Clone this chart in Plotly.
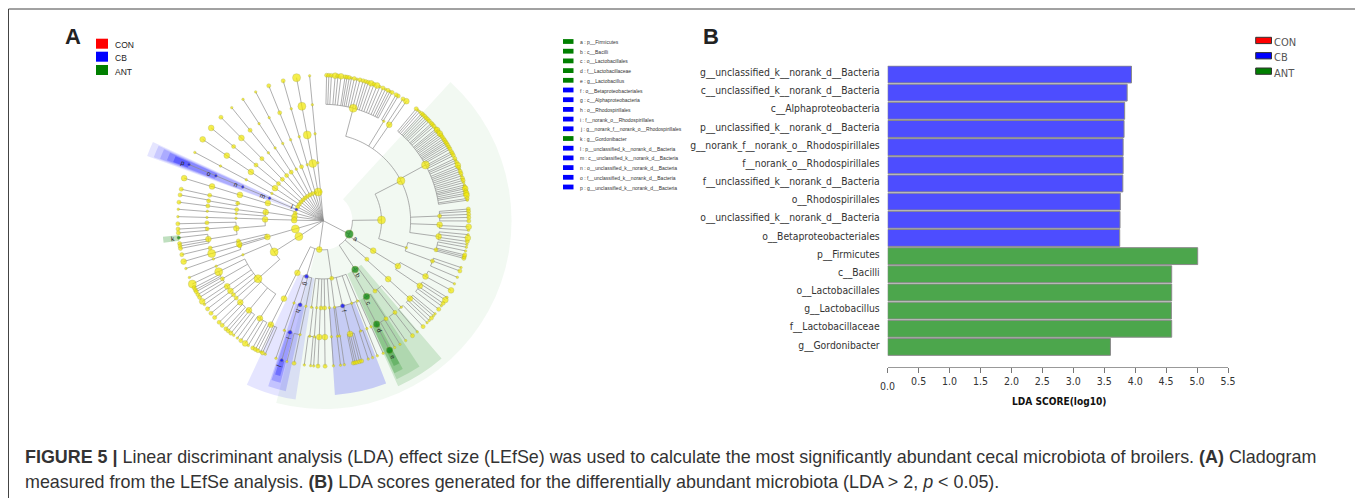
import plotly.graph_objects as go
import math

W, H = 1355, 498
t, s, m, b = 2.5, 4.1, 5.8, 8.0

# ---------- Panel B data ----------
lda_taxa = ["g__unclassified_k__norank_d__Bacteria", "c__unclassified_k__norank_d__Bacteria",
            "c__Alphaproteobacteria", "p__unclassified_k__norank_d__Bacteria",
            "g__norank_f__norank_o__Rhodospirillales", "f__norank_o__Rhodospirillales",
            "f__unclassified_k__norank_d__Bacteria", "o__Rhodospirillales",
            "o__unclassified_k__norank_d__Bacteria", "o__Betaproteobacteriales",
            "p__Firmicutes", "c__Bacilli", "o__Lactobacillales", "g__Lactobacillus",
            "f__Lactobacillaceae", "g__Gordonibacter"]
lda_scores = [3.94, 3.87, 3.83, 3.82, 3.805, 3.805, 3.80, 3.76, 3.755, 3.75,
              5.01, 4.59, 4.59, 4.585, 4.59, 3.60]
lda_groups = ["CB"] * 10 + ["ANT"] * 6
lda_ticks = [0, 0.5, 1, 1.5, 2, 2.5, 3, 3.5, 4, 4.5, 5, 5.5]

# ---------- Panel A legend ----------
clade_key = ["a : p__Firmicutes", "b : c__Bacilli", "c : o__Lactobacillales", "d : f__Lactobacillaceae",
             "e : g__Lactobacillus", "f : o__Betaproteobacteriales", "g : c__Alphaproteobacteria",
             "h : o__Rhodospirillales", "i : f__norank_o__Rhodospirillales",
             "j : g__norank_f__norank_o__Rhodospirillales", "k : g__Gordonibacter",
             "l : p__unclassified_k__norank_d__Bacteria", "m : c__unclassified_k__norank_d__Bacteria",
             "n : o__unclassified_k__norank_d__Bacteria", "o : f__unclassified_k__norank_d__Bacteria",
             "p : g__unclassified_k__norank_d__Bacteria"]
clade_key_group = ["ANT"] * 5 + ["CB"] * 5 + ["ANT"] + ["CB"] * 5

# ---------- Cladogram: per level, (parent angle, [(angle, size), ...]) ----------
level1 = [(354.6, t), (350, b), (344, t), (338.5, s), (332.5, s), (326.5, s), (321, s), (315.5, s), (310, s),
          (304, s), (298, s), (292.7, 3), (285, s), (278, m), (271, m), (253.5, b), (237, b), (188, 5.8), (117.4, 8.2)]
level2 = [(354.6, [(354.6, t)]), (350, [(349.6, b)]), (344, [(344, t)]), (338.5, [(338, s)]), (332.5, [(332.3, t)]),
          (326.5, [(326.5, s)]), (321, [(321, s)]), (315.5, [(315.3, s)]), (310, [(309.6, s)]), (304, [(304, m)]),
          (298, [(298, t)]), (292.7, [(292.7, 2.8)]), (285, [(287.6, m)]), (278, [(278.4, m)]), (271, [(271.3, m)]),
          (253.5, [(253.8, m)]), (237, [(237.6, b)]), (188, [(206.4, m), (196.8, 4.2), (171.7, s)]),
          (117.4, [(146.9, 6.8), (131.5, s), (121, m), (89.3, b)])]
level3 = [(354.6, [(354.6, t)]), (349.6, [(349.4, b)]), (344, [(344, t)]), (338, [(338, t)]), (332.3, [(332.3, t)]),
          (326.5, [(326.5, t)]), (321, [(321, t)]), (315.3, [(315.3, s)]), (309.6, [(309.6, s)]), (304, [(304, m)]),
          (298, [(298, t)]), (292.7, [(292.7, 2.8)]), (287.6, [(287.2, m)]), (278.4, [(281.5, s), (277.3, s), (274.6, t)]),
          (271.3, [(271.6, t), (265, m)]), (253.8, [(256.6, s), (254.4, m), (253.2, s)]), (237.6, [(247, t), (228.4, b)]),
          (206.4, [(206.8, m)]), (196.8, [(199.6, t), (195.4, 4.2), (191.5, t)]),
          (171.7, [(187.8, t), (184.4, t), (181.5, s), (179.1, s), (176, t), (172.6, t), (167.2, 4.4), (161, t), (157, t)]),
          (146.9, [(150.3, 6.6), (143.7, s)]), (131.5, [(132, m)]), (121, [(121.3, m)]), (89.3, [(62.8, b), (108, t)])]
level4 = [(354.6, [(354.6, t)]), (349.4, [(349.4, b)]), (344, [(344, t)]), (338, [(338, s)]), (332.3, [(332.3, t)]),
          (326.5, [(326.5, t)]), (321, [(321, s)]), (315.3, [(315.3, m)]), (309.6, [(309.6, s)]), (304, [(304, m)]),
          (298, [(298, t)]), (292.7, [(292.7, 2.8)]), (287.2, [(287.1, m)]), (281.5, [(282.6, s), (279.8, s)]),
          (277.3, [(277.3, s)]), (274.6, [(274.7, t)]), (271.6, [(271.6, t)]), (265, [(269, s), (266, s), (260.9, m)]),
          (256.6, [(256.4, s)]), (254.4, [(253.6, b)]), (253.2, [(250.8, t)]), (247, [(247, t)]),
          (228.4, [(244, b), (240.1, s), (235.7, m), (232.9, m), (230.5, s), (228.4, s), (225.5, m), (219.7, m), (213, m)]),
          (206.8, [(206.8, m)]), (199.6, [(199.6, t)]), (195.4, [(196.6, 4.2)]), (191.5, [(191.5, t)]),
          (187.8, [(186.7, t)]), (184.4, [(184.4, t)]), (181.5, [(182, m)]), (179.1, [(179.2, m)]), (176, [(176, t)]),
          (172.6, [(173, t)]), (167.2, [(172, t), (166.7, m), (161.3, t)]), (161, [(158, t)]), (157, [(155.8, t)]),
          (150.3, [(152.7, 6.6), (147.4, s)]), (143.7, [(142, s), (138, t)]), (132, [(132, m)]), (121.3, [(124, m), (118.6, m)]),
          (62.8, [(14.9, b), (31.3, t), (34.5, m), (61.4, b), (87.7, s), (92, m), (97.8, m)]), (108, [(104.5, s), (110.3, s)])]
level5 = [(354.6, [(354.6, t)]), (349.4, [(349.4, b)]), (344, [(344, s)]), (338, [(338, s)]), (332.3, [(332.3, t)]),
          (326.5, [(326.5, t)]), (321, [(321, t)]), (315.3, [(315.3, s)]), (309.6, [(309.6, m)]), (304, [(304, m)]),
          (298, [(298, t)]), (292.7, [(292.7, 2.8)]), (287.1, [(287, m)]), (282.6, [(282.5, s)]), (279.8, [(280.2, s)]),
          (277.3, [(277.3, s)]), (274.7, [(274.5, t)]), (271.6, [(271.6, t)]), (269, [(268.8, s)]), (266, [(266.7, s), (265.2, s)]),
          (260.9, [(263.3, 3.6), (261, s), (260, s), (259, s)]), (256.4, [(256.5, s)]), (253.6, [(253.7, m)]),
          (250.8, [(250.8, t)]), (247, [(247, t)]), (244, [(244.2, b), (242.6, s), (241.6, s)]),
          (240.1, [(240.8, s), (239.5, s), (238.2, s)]), (235.7, [(236.3, m), (234.8, t)]), (232.9, [(232.7, s)]),
          (230.5, [(230.5, s)]), (228.4, [(228.3, s)]), (225.5, [(225.7, s), (224, s), (222, s)]),
          (219.7, [(220.8, s), (219.4, s), (218, t), (216.2, t)]), (213, [(214.5, s), (212.5, m), (211, t), (209, s)]),
          (206.8, [(207.8, s), (206.7, s), (205.5, t), (204.7, s), (203.5, t)]), (199.6, [(199, t)]), (196.6, [(196.6, 3.2)]),
          (191.5, [(191.6, s), (194.5, t)]), (186.7, [(187.5, t), (185, t)]), (184.4, [(183.8, t)]), (182, [(182.1, s)]),
          (179.2, [(179.3, s)]), (176, [(176, t)]), (173, [(173.2, t)]), (172, [(171.7, t)]),
          (166.7, [(168.1, s), (167.4, s), (166.6, s), (165.6, s), (164.7, s)]), (161.3, [(162, t), (160.2, t)]),
          (158, [(158.2, t)]), (155.8, [(155.7, t)]), (152.7, [(152.9, 6.4)]), (147.4, [(150.6, t), (148.2, t)]),
          (142, [(145.5, t), (142.2, s)]), (138, [(139.8, t), (136.7, s)]),
          (132, [(134.5, t), (133.3, t), (132, s), (130.8, t), (129.8, t)]),
          (124, [(127.5, s), (125.8, t), (124.6, s), (123, m), (121.8, t)]), (118.6, [(118.6, m), (115.7, t)]),
          (110.3, [(112.9, t), (110.2, s), (108.8, t)]), (104.5, [(105, s), (104.3, s), (103.6, s), (102, t), (100.5, t)]),
          (97.8, [(99.4, t), (98.2, s), (96.8, m), (95.5, t)]), (92, [(92.4, m), (93.8, t)]),
          (87.7, [(85.4, s), (86.3, s), (87.5, s), (88.7, s), (90.1, s)]),
          (61.4, [(39.7, s), (40.6, t), (41.5, t), (42.5, s), (43.3, s), (44.2, s), (45.1, s), (45.9, s), (46.8, s), (48, s), (48.7, s),
                  (49.6, s), (50.8, s), (51.5, m), (52.3, s), (53.2, m), (54, s), (54.8, s), (55.7, s), (56.5, s), (57.3, s), (58, s),
                  (58.8, s), (59.7, s), (60.5, s), (61.7, s), (62.5, s), (63.4, s), (64.7, s), (65.5, t), (66.4, s), (67.6, m),
                  (68.5, s), (69.3, t), (70.2, s), (71.1, s), (72, t), (73, s), (73.9, s), (74.8, t), (75.8, t), (76.6, s), (77.3, m),
                  (78.2, s), (79.1, m), (79.9, m), (81.2, s), (81.9, t)]),
          (34.5, [(34.8, m), (33.2, s)]), (31.3, [(31, s), (30, s)]),
          (14.9, [(1.3, s), (2.2, s), (3.2, s), (4.7, m), (5.8, s), (7, m), (8.6, s), (9.4, s), (10.3, s), (11.2, t), (12.3, s), (13.4, t),
                  (14.6, s), (15.9, s), (17, s), (18, s), (19.2, m), (20.4, s), (21.7, m), (22.9, t), (24.2, s), (25.3, t), (26.4, s),
                  (27.3, t), (28.2, s)])]
levels = [level2, level3, level4, level5]

# Enriched nodes: (level, angle) -> class
enriched = {(1, 117.4): "ANT", (2, 146.9): "ANT", (3, 150.3): "ANT", (4, 152.7): "ANT", (5, 152.9): "ANT", (5, 263.3): "ANT",
            (3, 167.2): "CB", (2, 196.8): "CB", (3, 195.4): "CB", (4, 196.6): "CB", (5, 196.6): "CB",
            (1, 292.7): "CB", (2, 292.7): "CB", (3, 292.7): "CB", (4, 292.7): "CB", (5, 292.7): "CB"}

# Shaded sectors: centre angle, width, inner level, outer level, class
sector_theta = [118.5, 147.5, 150.85, 153.4, 153.0, 167.55, 196.9, 195.4, 196.4, 196.45, 292.5, 292.5, 292.5, 292.5, 292.5, 263.2]
sector_width = [152, 16.3, 8.6, 3.2, 2.2, 17.3, 16.2, 6, 3.2, 1.9, 4.6, 4, 3.4, 2.8, 2.2, 2.2]
sector_inner = [1.0, 2.0, 3.0, 4.0, 5.0, 3.0, 2.0, 3.0, 4.0, 5.0, 1.0, 2.0, 3.0, 4.0, 5.0, 5.0]
sector_outer = [6.47, 6.24, 6.0, 5.78, 5.55, 6.0, 6.22, 6.0, 5.76, 5.54, 6.45, 6.22, 6.0, 5.76, 5.54, 5.54]
sector_class = ["ANT"] * 5 + ["CB"] * 10 + ["ANT"]
sector_alpha = [0.05, 0.15, 0.15, 0.2, 0.25, 0.18, 0.1, 0.15, 0.2, 0.28, 0.1, 0.12, 0.15, 0.2, 0.3, 0.25]

label_text = list("abcdefghijklmnop")
label_theta = [118, 147.5, 150.9, 153, 153, 167.1, 195.6, 195.4, 196.6, 196.6, 263.2, 293.8, 292.6, 292.4, 292.5, 292.4]
label_level = [1.27, 2.24, 3.25, 4.25, 5.25, 3.18, 2.25, 3.24, 4.2, 5.2, 5.2, 1.19, 2.27, 3.24, 4.25, 5.23]

# ---------- Styling ----------
CLASS_SOLID = {"CON": "#ff0000", "CB": "#0000ff", "ANT": "#007f00"}
CLASS_RGB = {"CB": "0,0,255", "ANT": "0,128,0"}
BAR_FILL = {"CB": "#4d4dff", "ANT": "#4ca64c"}
CX, CY = 323.3, 220.7      # cladogram centre, px
UNIT = 29.1                # px per level
R_MAX = 6.6

fig = go.Figure()

# sectors
fig.add_trace(go.Barpolar(
    theta=sector_theta, width=sector_width, base=sector_inner,
    r=[o - i for o, i in zip(sector_outer, sector_inner)],
    marker=dict(color=[f"rgba({CLASS_RGB[c]},{a})" for c, a in zip(sector_class, sector_alpha)], line=dict(width=0)),
    hoverinfo="skip", showlegend=False, subplot="polar"))

# connectors
edge_r, edge_t = [], []
for th, _ in level1:
    edge_r += [0, 1, None]
    edge_t += [th, th, None]
for i, lvl in enumerate(levels):
    parent_level = i + 1
    for parent, kids in lvl:
        for th, _ in kids:
            edge_r += [parent_level, parent_level + 1, None]
            edge_t += [th, th, None]
        angs = [k[0] for k in kids] + [parent]
        lo, hi = min(angs), max(angs)
        n = max(1, int((hi - lo) / 1.5))
        for j in range(n + 1):
            edge_r.append(parent_level)
            edge_t.append(lo + (hi - lo) * j / n)
        edge_r.append(None)
        edge_t.append(None)
fig.add_trace(go.Scatterpolar(r=edge_r, theta=edge_t, mode="lines", line=dict(color="#8c8c8c", width=0.7),
                              hoverinfo="skip", showlegend=False, subplot="polar"))

# nodes
nr, nt, ns, nc = [], [], [], []
def add_node(lv, th, sz):
    nr.append(lv)
    nt.append(th)
    ns.append(sz)
    cls = enriched.get((lv, th))
    nc.append(CLASS_SOLID[cls] if cls else "#f2e800")
for th, sz in level1:
    add_node(1, th, sz)
for i, lvl in enumerate(levels):
    for _, kids in lvl:
        for th, sz in kids:
            add_node(i + 2, th, sz)
fig.add_trace(go.Scatterpolar(r=nr, theta=nt, mode="markers",
                              marker=dict(size=ns, color=nc, line=dict(color="#9a9a30", width=0.4)),
                              hoverinfo="skip", showlegend=False, subplot="polar"))

# bars
fig.add_trace(go.Bar(x=lda_scores, y=lda_taxa, orientation="h", width=0.93,
                     marker=dict(color=[BAR_FILL[g] for g in lda_groups], line=dict(color="#8a8a8a", width=1)),
                     showlegend=False, xaxis="x", yaxis="y", hoverinfo="skip"))

def px(x): return x / W
def py(y): return 1 - y / H

R_PX = R_MAX * UNIT
fig.update_layout(
    template="none",
    width=W, height=H, autosize=False, margin=dict(l=0, r=0, t=0, b=0, pad=0), paper_bgcolor="white", plot_bgcolor="white",
    font=dict(family="Liberation Sans", color="#222222"),
    polar=dict(domain=dict(x=[px(CX - R_PX), px(CX + R_PX)], y=[py(CY + R_PX), py(CY - R_PX)]),
               bgcolor="rgba(0,0,0,0)", barmode="overlay",
               radialaxis=dict(visible=False, range=[0, R_MAX]),
               angularaxis=dict(visible=False, rotation=90, direction="clockwise")),
    xaxis=dict(domain=[px(887.7), px(1228)], range=[0, 5.5], anchor="free", position=py(366.7), automargin=False,
               tickmode="array", tickvals=lda_ticks,
               ticktext=[""] + [f"{v:.1f}" for v in lda_ticks[1:]],
               ticks="outside", ticklen=5, tickwidth=1, tickcolor="#777777",
               showline=True, linecolor="#999999", linewidth=1, showgrid=False, zeroline=False,
               tickfont=dict(family="DejaVu Sans Condensed, DejaVu Sans", size=10.5, color="#333333")),
    yaxis=dict(domain=[py(356), py(65.4)], range=[15.5, -0.5], anchor="x", type="category", automargin=False,
               categoryorder="array", categoryarray=lda_taxa,
               showline=False, showgrid=False, zeroline=False, ticks="", ticklabelstandoff=7, ticklabelshift=2,
               tickfont=dict(family="DejaVu Sans Condensed, DejaVu Sans", size=10.3, color="#333333")),
)

shapes, notes = [], []
def rect(x0, y0, x1, y1, fill, line=None, lw=0):
    shapes.append(dict(type="rect", xref="paper", yref="paper", x0=px(x0), x1=px(x1), y0=py(y1), y1=py(y0),
                       fillcolor=fill, line=dict(color=line or fill, width=lw)))
def note(x, y, text, size, family="Liberation Sans", color="#222222", anchor="left", angle=0):
    notes.append(dict(xref="paper", yref="paper", x=px(x), y=py(y), text=text, showarrow=False,
                      xanchor=anchor, yanchor="middle", textangle=angle, align="left",
                      font=dict(size=size, family=family, color=color)))

# frame
shapes.append(dict(type="line", xref="paper", yref="paper", x0=px(8.5), x1=1, y0=py(9), y1=py(9), line=dict(color="#444444", width=1)))
shapes.append(dict(type="line", xref="paper", yref="paper", x0=px(8.5), x1=px(8.5), y0=py(9), y1=0, line=dict(color="#444444", width=1)))

# panel letters
note(63, 36, "<b>A</b>", 22)
note(701, 36, "<b>B</b>", 22)

# panel A class key
for name, y0 in zip(["CON", "CB", "ANT"], [38.7, 51.7, 65]):
    rect(96, y0, 108, y0 + 10, CLASS_SOLID[name])
    note(113, y0 + 6.5, name, 8.5)

# panel A clade key
for i, (txt, g) in enumerate(zip(clade_key, clade_key_group)):
    y = 41.5 + i * 9.7
    rect(563, y - 2.4, 573.5, y + 2.4, CLASS_SOLID[g])
    note(578, y + 0.5, txt, 5.0, color="#333333")

# panel B class key
for name, y0 in zip(["CON", "CB", "ANT"], [37.3, 52.6, 68]):
    rect(1255.7, y0, 1271.5, y0 + 6.3, CLASS_SOLID[name], line="#333333", lw=1)
    note(1272, y0 + 5, name, 11, family="DejaVu Sans Condensed, DejaVu Sans", color="#555555")

# clade letters
for txt, th, lv in zip(label_text, label_theta, label_level):
    a = math.radians(th)
    ang = th - 90 if th < 210 else th - 270
    note(CX + lv * UNIT * math.sin(a), CY - lv * UNIT * math.cos(a), txt, 6.5, color="#222222", anchor="center", angle=ang)

# axis extras
note(887.7, 386, "0.0", 10.5, family="DejaVu Sans Condensed, DejaVu Sans", color="#333333", anchor="center")
note(1059, 401.5, "<b>LDA SCORE(log10)</b>", 10.1, family="DejaVu Sans Condensed, DejaVu Sans", color="#111111", anchor="center")

# caption
note(23, 456.5, "<b>FIGURE 5 |</b> Linear discriminant analysis (LDA) effect size (LEfSe) was used to calculate the most significantly abundant cecal microbiota of broilers. <b>(A)</b> Cladogram", 17.9, color="#333333")
note(23, 482, "measured from the LEfSe analysis. <b>(B)</b> LDA scores generated for the differentially abundant microbiota (LDA &gt; 2, <i>p</i> &lt; 0.05).", 17.9, color="#333333")

fig.update_layout(shapes=shapes, annotations=notes)
fig.write_html("out.html", config={"displayModeBar": False, "responsive": False},
               post_script="document.body.style.margin='0';document.documentElement.style.overflow='hidden';")
